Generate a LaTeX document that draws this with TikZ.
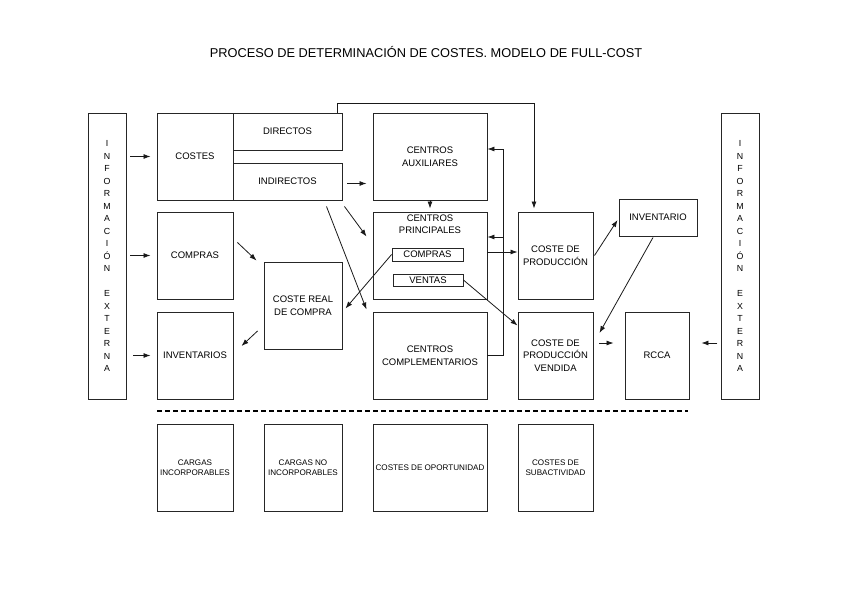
\documentclass[tikz,border=0pt]{standalone}
\usepackage{fontspec}
\setmainfont{Liberation Sans}
\usetikzlibrary{arrows.meta,calc}

\begin{document}
\begin{tikzpicture}[x=1pt,y=-1pt,
        box/.style={draw=black!85, line width=0.95pt, inner sep=1pt, align=center, font=\fontsize{9.5}{12.5}\selectfont},
        small/.style={box, minimum height=87, font=\fontsize{8.1}{10}\selectfont},
        arr/.style={draw=black!90, line width=0.8pt, -{Latex[length=7pt,width=5pt]}}]
        \useasboundingbox (0,0) rectangle (848,599);
        \node[font=\fontsize{12.8}{15}\selectfont] (title) at (426,52) {PROCESO DE DETERMINACIÓN DE COSTES. MODELO DE FULL-COST};

        % informacion externa
        \foreach \n/\x in {infoL/107, infoR/740}
            \node[box, minimum width=38, minimum height=286, font=\fontsize{8.8}{12.5}\selectfont] (\n) at (\x,256)
                {I\\N\\F\\O\\R\\M\\A\\C\\I\\Ó\\N\\[12.5pt]E\\X\\T\\E\\R\\N\\A};

        % first column
        \node[box, minimum width=76, minimum height=87] (costes) at (195,156.5) {COSTES};
        \node[box, minimum width=109, minimum height=37] (directos) at (287.5,131.5) {DIRECTOS};
        \node[box, minimum width=109, minimum height=37] (indirectos) at (287.5,181.5) {INDIRECTOS};
        \node[box, minimum width=76, minimum height=87] (compras) at (195,255.5) {COMPRAS};
        \node[box, minimum width=76, minimum height=87] (inventarios) at (195,355.5) {INVENTARIOS};
        \node[box, minimum width=78, minimum height=87] (costereal) at (303,305.5) {COSTE REAL\\DE COMPRA};

        % centros
        \node[box, minimum width=114, minimum height=87] (aux) at (430,156.5) {CENTROS\\AUXILIARES};
        \node[box, minimum width=114, minimum height=87] (principales) at (430,255.5) {};
        \node[anchor=north, align=center, inner sep=0pt, font=\fontsize{9.5}{12.5}\selectfont] (princtxt)
            at ($(principales.north)+(0,3)$) {CENTROS\\PRINCIPALES};
        \node[box, line width=0.8pt, inner sep=0pt, minimum width=71, minimum height=13] (subcompras) at (427.5,254.5) {COMPRAS};
        \node[box, line width=0.8pt, inner sep=0pt, minimum width=70, minimum height=12] (ventas) at (428,280) {VENTAS};
        \node[box, minimum width=114, minimum height=87] (complementarios) at (430,355.5) {CENTROS\\COMPLEMENTARIOS};

        % produccion
        \node[box, minimum width=75, minimum height=87] (prod) at (555.5,255.5) {COSTE DE\\PRODUCCIÓN};
        \node[box, minimum width=78, minimum height=37] (inventario) at (658,217.5) {INVENTARIO};
        \node[box, minimum width=75, minimum height=87] (vendida) at (555.5,355.5) {COSTE DE\\PRODUCCIÓN\\VENDIDA};
        \node[box, minimum width=64, minimum height=87] (rcca) at (657,355.5) {RCCA};

        % cargas y costes no incorporados
        \draw[line width=1.6pt, dash pattern=on 4.5pt off 3.5pt] (157,411) -- (688,411);
        \node[small, minimum width=76] (cargasinc) at (195,467.5) {CARGAS\\INCORPORABLES};
        \node[small, minimum width=78] (cargasno) at (303,467.5) {CARGAS NO\\INCORPORABLES};
        \node[small, minimum width=114] (oportunidad) at (430,467.5) {COSTES DE OPORTUNIDAD};
        \node[small, minimum width=75] (subactividad) at (555.5,467.5) {COSTES DE\\SUBACTIVIDAD};

        % arrows
        \draw[arr, shorten <=4pt, shorten >=6pt] (infoL.east |- costes.west) -- (costes.west);
        \draw[arr, shorten <=4pt, shorten >=6pt] (infoL.east |- compras.west) -- (compras.west);
        \draw[arr, shorten <=7pt, shorten >=6pt] (infoL.east |- inventarios.west) -- (inventarios.west);
        \draw[arr, shorten <=5pt, shorten >=6pt] ($(indirectos.east)+(0,2)$) -- ($(indirectos.east -| aux.west)+(0,2)$);
        \draw[arr] ($(indirectos.south east)+(2,6)$) -- ($(principales.north west)+(-6,25)$);
        \draw[arr] ($(indirectos.south east)+(-16,6)$) -- ($(complementarios.north west)+(-6,-2)$);
        \draw[arr] ($(compras.east)+(4,-13)$) -- ($(costereal.north west)+(-7,-1)$);
        \draw[arr] (subcompras.west) -- ($(costereal.east)+(3,3)$);
        \draw[arr] ($(costereal.west)+(-6,25.5)$) -- ($(inventarios.east)+(8,-9.5)$);
        \draw[arr, shorten >=3pt] (aux.south) -- (principales.north);
        \draw[arr, shorten >=3pt] ($(directos.north east)+(-5,0)$) -- ++(0,-9) -| ($(prod.north)+(-21.5,0)$);
        \coordinate (rail) at ($(complementarios.east)+(16,0)$);
        \coordinate (pin) at ($(principales.east)+(0,-18.5)$);
        \draw[arr] (complementarios.east) -- (rail) |- ($(aux.east)+(0,-7.5)$);
        \draw[arr] (rail |- pin) -- (pin);
        \draw[arr] ($(principales.east)+(0,-3.5)$) -- ($(prod.west)+(0,-3.5)$);
        \draw[arr] (ventas.east) -- ($(vendida.north west)+(0,14)$);
        \draw[arr] ($(prod.east)+(1,0)$) -- ($(inventario.west)+(-1,2.5)$);
        \draw[arr] ($(inventario.south)+(-5,1)$) -- ($(vendida.east)+(6,-22.5)$);
        \draw[arr] ($(vendida.east)+(6,-12.5)$) -- ($(rcca.west)+(-11,-12.5)$);
        \draw[arr] ($(rcca.east)+(28,-12.5)$) -- ($(rcca.east)+(12,-12.5)$);
    \end{tikzpicture}
\end{document}
